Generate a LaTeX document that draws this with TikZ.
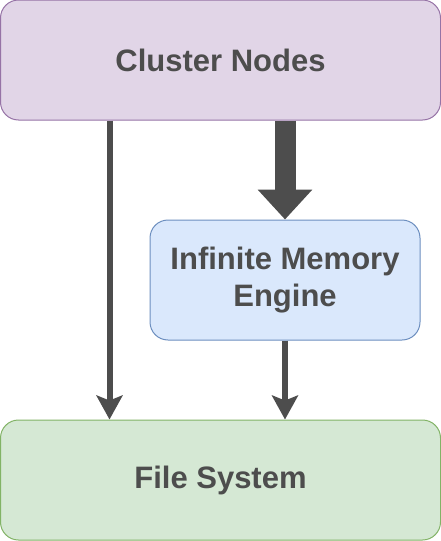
\documentclass[tikz,border=0pt]{standalone}
\usepackage{fontspec}
\setmainfont{Liberation Sans}
\usetikzlibrary{arrows.meta}
\definecolor{txtgray}{HTML}{4D4D4D}
\definecolor{arrowgray}{HTML}{4D4D4D}
\definecolor{purplefill}{HTML}{E1D5E7}
\definecolor{purpleline}{HTML}{9673A6}
\definecolor{bluefill}{HTML}{DAE8FC}
\definecolor{blueline}{HTML}{6C8EBF}
\definecolor{greenfill}{HTML}{D5E8D4}
\definecolor{greenline}{HTML}{82B366}
\begin{document}
\begin{tikzpicture}[
    x=1pt, y=-1pt,
    every node/.style = {shape=rectangle, rounded corners=18pt, draw, line width=1pt,
      align=center, text=txtgray, inner sep=0pt,
      font=\fontsize{31}{37}\selectfont\bfseries},
    bigarrow/.style = {draw=arrowgray, line width=21pt,
      -{Triangle[length=30pt, width=53pt]}},
    thinarrow/.style = {draw=arrowgray, line width=6pt,
      -{Stealth[length=24pt, width=26pt, inset=5pt]}}
    ]
    \useasboundingbox (0,0) rectangle (441,541);
    \node (cluster) [fill=purplefill, draw=purpleline, minimum width=440pt, minimum height=120pt]
      at (220.5,60) {Cluster Nodes};
    \node (ime) [fill=bluefill, draw=blueline, minimum width=270pt, minimum height=120pt]
      at (285,280) {Infinite Memory\\Engine};
    \node (fs) [fill=greenfill, draw=greenline, minimum width=440pt, minimum height=120pt]
      at (220.5,480) {File System};
    \draw[thinarrow] ([xshift=109.5pt]cluster.south west) -- ([xshift=109.5pt]fs.north west);
    \draw[bigarrow] (cluster.south -| ime.north) -- (ime.north);
    \draw[thinarrow] (ime.south) -- (fs.north -| ime.south);
  \end{tikzpicture}
\end{document}
